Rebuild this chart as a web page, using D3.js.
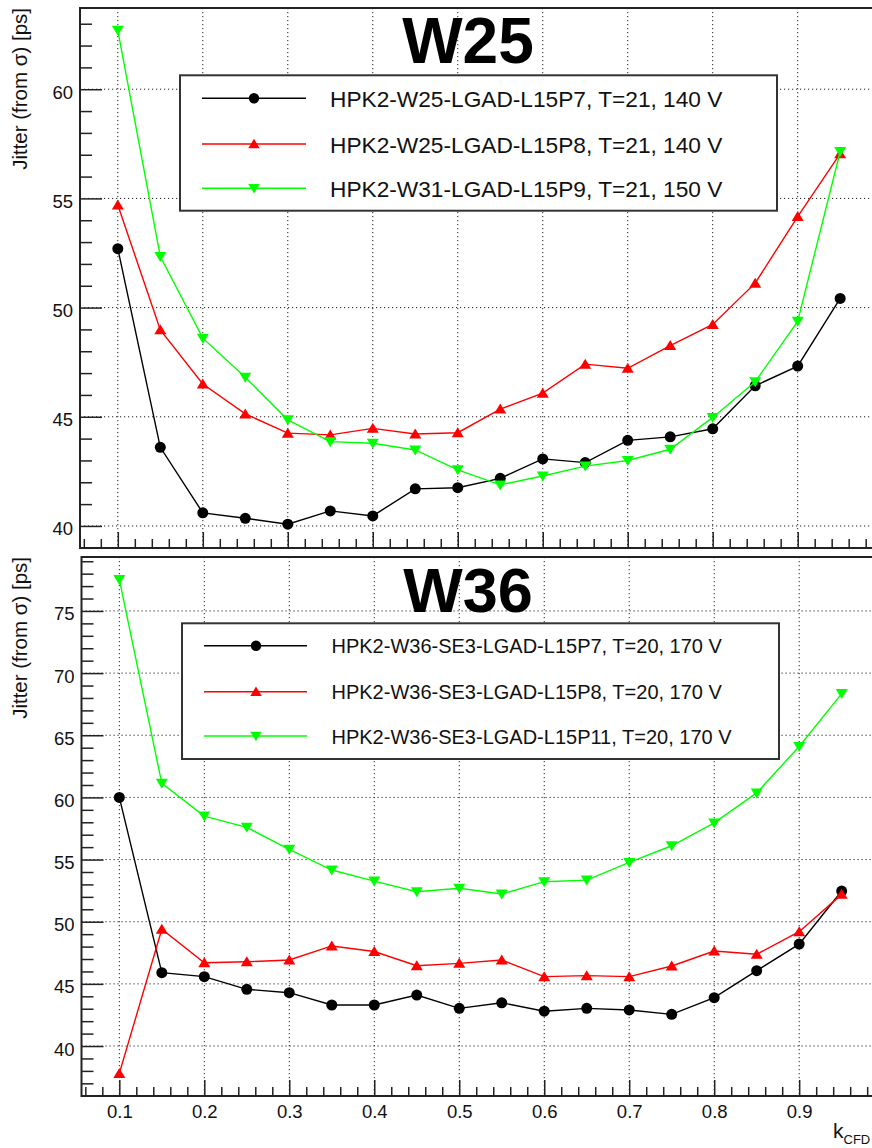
<!DOCTYPE html>
<html>
<head>
<meta charset="utf-8">
<script src="https://cdn.jsdelivr.net/npm/d3@7"></script>
<style>
  html, body { margin: 0; padding: 0; background: #fff; }
  svg { display: block; font-family: "Liberation Sans", Arial, Helvetica, sans-serif; }
</style>
</head>
<body>
<svg id="chart" width="872" height="1148"></svg>
<script>
// ---------------- DATA ----------------
const kValues = [0.1, 0.15, 0.2, 0.25, 0.3, 0.35, 0.4, 0.45, 0.5, 0.55, 0.6, 0.65, 0.7, 0.75, 0.8, 0.85, 0.9, 0.95];

// W25 panel
const w25Labels = [
  "HPK2-W25-LGAD-L15P7, T=21, 140 V",
  "HPK2-W25-LGAD-L15P8, T=21, 140 V",
  "HPK2-W31-LGAD-L15P9, T=21, 150 V"
];
const w25P7 = [52.7, 43.6, 40.6, 40.35, 40.08, 40.69, 40.46, 41.7, 41.75, 42.18, 43.07, 42.9, 43.92, 44.08, 44.45, 46.42, 47.32, 50.42];
const w25P8 = [54.7, 48.98, 46.5, 45.13, 44.25, 44.17, 44.47, 44.21, 44.27, 45.35, 46.08, 47.41, 47.22, 48.26, 49.23, 51.12, 54.17, 57.05];
const w31P9 = [62.7, 52.34, 48.6, 46.81, 44.86, 43.86, 43.79, 43.48, 42.57, 41.88, 42.29, 42.74, 43.0, 43.51, 44.97, 46.6, 49.37, 57.15];

// W36 panel
const w36Labels = [
  "HPK2-W36-SE3-LGAD-L15P7, T=20, 170 V",
  "HPK2-W36-SE3-LGAD-L15P8, T=20, 170 V",
  "HPK2-W36-SE3-LGAD-L15P11, T=20, 170 V"
];
const w36P7 = [60.0, 45.9, 45.58, 44.56, 44.29, 43.3, 43.3, 44.1, 43.03, 43.48, 42.8, 43.03, 42.9, 42.55, 43.89, 46.06, 48.2, 52.47];
const w36P8 = [37.8, 49.39, 46.7, 46.78, 46.92, 48.05, 47.6, 46.46, 46.65, 46.92, 45.58, 45.66, 45.58, 46.44, 47.64, 47.38, 49.2, 52.2];
const w36P11 = [77.54, 61.13, 58.5, 57.59, 55.82, 54.16, 53.27, 52.41, 52.69, 52.23, 53.22, 53.35, 54.77, 56.11, 57.95, 60.36, 64.1, 68.35];

// Ticks
const xTickLabels = ["0.1", "0.2", "0.3", "0.4", "0.5", "0.6", "0.7", "0.8", "0.9"];
const yTicksW25 = [40, 45, 50, 55, 60];
const yTicksW36 = [40, 45, 50, 55, 60, 65, 70, 75];

const seriesColors = ["#000000", "#ff0000", "#00ff00"];
const seriesMarkers = ["circle", "up", "down"];

// ---------------- DRAWING ----------------
const svg = d3.select("#chart");
const FONT = '"Liberation Sans", Arial, Helvetica, sans-serif';

function markerPath(type, x, y, s) {
  if (type === "up") {
    return `M${x},${y - 5.5 * s}L${x + 6 * s},${y + 4.5 * s}L${x - 6 * s},${y + 4.5 * s}Z`;
  } else {
    return `M${x - 6 * s},${y - 4.5 * s}L${x + 6 * s},${y - 4.5 * s}L${x},${y + 5.5 * s}Z`;
  }
}

function drawMarker(g, type, x, y, color, s) {
  if (type === "circle") {
    g.append("circle").attr("cx", x).attr("cy", y).attr("r", 5.5 * s).attr("fill", color);
  } else {
    g.append("path").attr("d", markerPath(type, x, y, s)).attr("fill", color);
  }
}

function drawPanel(cfg) {
  const g = svg.append("g");
  const x = d3.scaleLinear().domain([0.0555, 0.9945]).range([cfg.left, cfg.right]);
  const y = d3.scaleLinear().domain(cfg.yDomain).range([cfg.bottom, cfg.top]);

  const xMajor = xTickLabels.map(Number);
  const xMinor = d3.range(0.06, 0.995, 0.02).filter(v => !xMajor.some(m => Math.abs(m - v) < 1e-6));
  const [y0, y1] = cfg.yDomain;
  const yMinor = d3.range(Math.ceil(y0), Math.floor(y1) + 1).filter(v => !cfg.yTicks.includes(v));

  // grid
  const grid = g.append("g").attr("stroke", "#222").attr("stroke-width", 1).attr("stroke-dasharray", "1.2,2.8");
  xMajor.forEach(v => grid.append("line")
    .attr("x1", x(v)).attr("x2", x(v)).attr("y1", cfg.top).attr("y2", cfg.bottom));
  cfg.yTicks.forEach(v => grid.append("line")
    .attr("x1", cfg.left).attr("x2", cfg.right).attr("y1", y(v)).attr("y2", y(v)));

  // axes
  const yAxis = d3.axisLeft(y).tickValues(cfg.yTicks).tickSizeInner(-22).tickSizeOuter(0).tickPadding(7).tickFormat(d3.format("d"));
  const ya = g.append("g").attr("transform", `translate(${cfg.left},0)`).call(yAxis);
  const yaMinor = g.append("g").attr("transform", `translate(${cfg.left},0)`)
    .call(d3.axisLeft(y).tickValues(yMinor).tickSizeInner(-12).tickSizeOuter(0).tickFormat(""));
  const xAxis = d3.axisBottom(x).tickValues(xMajor).tickSizeInner(-16).tickSizeOuter(0).tickPadding(9)
    .tickFormat((d, i) => cfg.xLabels ? xTickLabels[i] : "");
  const xa = g.append("g").attr("transform", `translate(0,${cfg.bottom})`).call(xAxis);
  const xaMinor = g.append("g").attr("transform", `translate(0,${cfg.bottom})`)
    .call(d3.axisBottom(x).tickValues(xMinor).tickSizeInner(-9).tickSizeOuter(0).tickFormat(""));
  [ya, yaMinor, xa, xaMinor].forEach(a => {
    a.select(".domain").remove();
    a.selectAll("line").attr("stroke", "#222").attr("stroke-width", 1.5);
    a.selectAll("text").attr("font-family", FONT).attr("font-size", 18.5).attr("fill", "#111");
  });
  ya.selectAll("text").attr("dy", null).attr("dominant-baseline", null).attr("y", 9);

  // frame
  g.append("rect").attr("x", cfg.left).attr("y", cfg.top)
    .attr("width", cfg.right - cfg.left).attr("height", cfg.bottom - cfg.top)
    .attr("fill", "none").attr("stroke", "#222").attr("stroke-width", 2);

  // series
  const line = d3.line().x(d => x(d[0])).y(d => y(d[1]));
  cfg.series.forEach((vals, si) => {
    const pts = kValues.map((k, i) => [k, vals[i]]);
    g.append("path").datum(pts).attr("d", line).attr("fill", "none")
      .attr("stroke", seriesColors[si]).attr("stroke-width", 1.4);
    const mg = g.append("g");
    pts.forEach(p => drawMarker(mg, seriesMarkers[si], x(p[0]), y(p[1]), seriesColors[si], 1));
  });

  // title
  g.append("text").attr("x", 468).attr("y", cfg.titleY).attr("text-anchor", "middle")
    .attr("font-family", FONT).attr("font-weight", "bold").attr("font-size", cfg.titleSize)
    .attr("fill", "#000").text(cfg.title);

  // legend
  const L = cfg.legend;
  g.append("rect").attr("x", L.x0).attr("y", L.y0).attr("width", L.x1 - L.x0).attr("height", L.y1 - L.y0)
    .attr("fill", "#fff").attr("stroke", "#333").attr("stroke-width", 2);
  cfg.labels.forEach((lab, i) => {
    const yy = L.rows[i];
    g.append("line").attr("x1", L.lx0).attr("x2", L.lx1).attr("y1", yy).attr("y2", yy)
      .attr("stroke", seriesColors[i]).attr("stroke-width", 1.6);
    drawMarker(g, seriesMarkers[i], L.mx, yy, seriesColors[i], 0.95);
    g.append("text").attr("x", L.tx).attr("y", yy + L.dy).attr("font-family", FONT)
      .attr("font-size", L.fs).attr("fill", "#111").text(lab);
  });

  // y title
  g.append("text").attr("transform", `translate(27,${cfg.top}) rotate(-90)`)
    .attr("text-anchor", "end").attr("font-family", FONT).attr("font-size", 20.5).attr("fill", "#111")
    .text("Jitter (from σ) [ps]");

  return { x, y };
}

drawPanel({
  left: 80, right: 878, top: 8, bottom: 548,
  yDomain: [38.99, 63.72], yTicks: yTicksW25, xLabels: false,
  series: [w25P7, w25P8, w31P9], labels: w25Labels,
  title: "W25", titleY: 63, titleSize: 64,
  legend: { x0: 180, y0: 75.3, x1: 777, y1: 210.7, rows: [98.3, 144, 188.3], lx0: 202, lx1: 306, mx: 254, tx: 330, fs: 22.7, dy: 9 }
});

drawPanel({
  left: 81.5, right: 879.5, top: 557, bottom: 1096,
  yDomain: [35.98, 79.34], yTicks: yTicksW36, xLabels: true,
  series: [w36P7, w36P8, w36P11], labels: w36Labels,
  title: "W36", titleY: 612, titleSize: 63,
  legend: { x0: 182, y0: 623.3, x1: 779, y1: 759, rows: [645.7, 691.7, 736], lx0: 204, lx1: 307, mx: 256, tx: 331.5, fs: 20, dy: 7.6 }
});

// x-axis title
svg.append("text").attr("x", 833).attr("y", 1138).attr("font-family", FONT).attr("font-size", 21).attr("fill", "#111")
  .text("k").append("tspan").attr("font-size", 13).attr("dy", 6).text("CFD");
</script>
</body>
</html>
